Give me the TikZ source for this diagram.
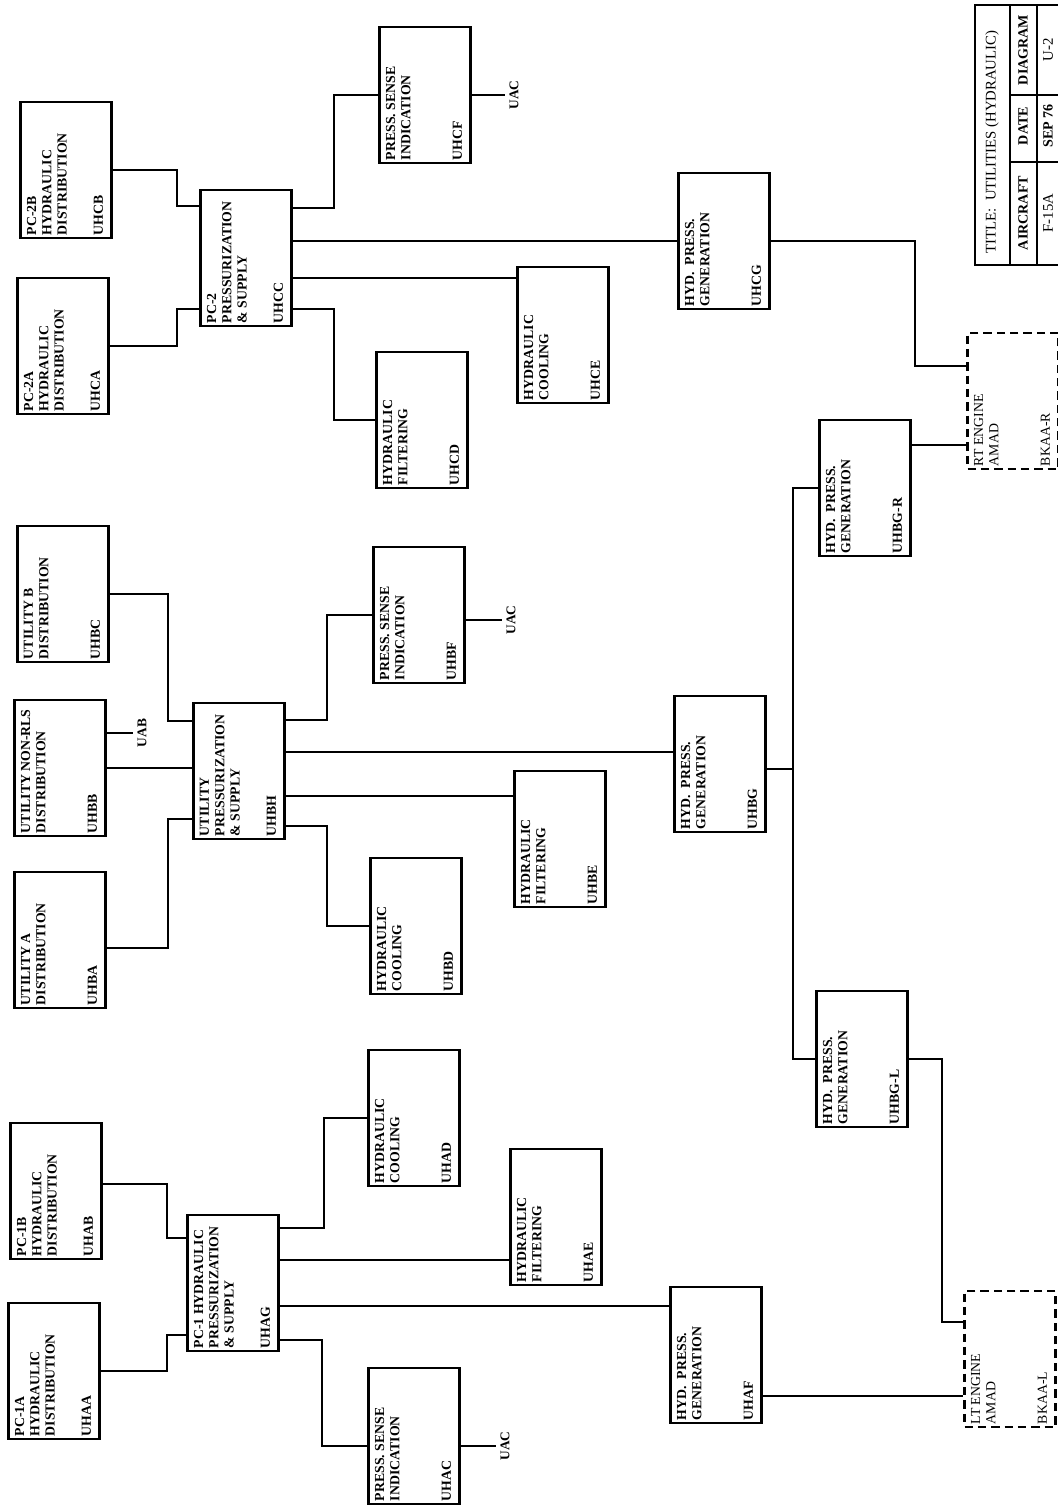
\documentclass[tikz,border=0pt]{standalone}
\usepackage{fontspec}
\setmainfont{Liberation Serif}
\usepackage{graphicx}
\usetikzlibrary{calc}

% text of one block, turned to read upwards
\newcommand{\unitbox}[2]{\rotatebox{90}{\parbox[c][2.2cm][s]{3.25cm}{\raggedright\vspace*{3.5pt}#1\par\vfill #2\par\vspace*{5pt}}}}
\newcommand{\upright}[1]{\rotatebox{90}{#1}}

\begin{document}
\begin{tikzpicture}[
    x=0.025cm, y=-0.025cm,
    unit/.style={draw, line width=1.9pt, minimum width=2.275cm, minimum height=3.4cm, inner sep=0pt, font=\bfseries\fontsize{9.8}{10.9}\selectfont},
    engine/.style={unit, dash pattern=on 6pt off 3.5pt, font=\fontsize{9.8}{10.9}\selectfont},
    link/.style={line width=1.9pt},
    tag/.style={inner sep=3pt, font=\bfseries\fontsize{9.5}{10}\selectfont},
    cell/.style={inner sep=0pt, font=\fontsize{10.5}{12}\selectfont}
]
\useasboundingbox (0,0) rectangle (1058,1505);

% PC-2 system
\node[unit] (uhcb) at (66,170) {\unitbox{PC-2B\\HYDRAULIC\\DISTRIBUTION}{UHCB}};
\node[unit] (uhca) at (63,346) {\unitbox{PC-2A\\HYDRAULIC\\DISTRIBUTION}{UHCA}};
\node[unit] (uhcc) at (246,258) {\unitbox{PC-2\\PRESSURIZATION\\\& SUPPLY}{UHCC}};
\node[unit] (uhcf) at (425,95) {\unitbox{PRESS. SENSE\\INDICATION}{UHCF}};
\node[unit] (uhcd) at (422,420) {\unitbox{HYDRAULIC\\FILTERING}{UHCD}};
\node[unit] (uhce) at (563,335) {\unitbox{HYDRAULIC\\COOLING}{UHCE}};
\node[unit] (uhcg) at (724,241) {\unitbox{HYD.\ \ PRESS.\\GENERATION}{UHCG}};
\node[tag] (uac1) at (514,95) {\upright{UAC}};

% utility system
\node[unit] (uhbc) at (63,594) {\unitbox{UTILITY B\\DISTRIBUTION}{UHBC}};
\node[unit] (uhbb) at (60,768) {\unitbox{UTILITY NON-RLS\\DISTRIBUTION}{UHBB}};
\node[unit] (uhba) at (60,940) {\unitbox{UTILITY A\\DISTRIBUTION}{UHBA}};
\node[unit] (uhbh) at (239,771) {\unitbox{UTILITY\\PRESSURIZATION\\\& SUPPLY}{UHBH}};
\node[unit] (uhbf) at (419,615) {\unitbox{PRESS. SENSE\\INDICATION}{UHBF}};
\node[unit] (uhbd) at (416,926) {\unitbox{HYDRAULIC\\COOLING}{UHBD}};
\node[unit] (uhbe) at (560,839) {\unitbox{HYDRAULIC\\FILTERING}{UHBE}};
\node[unit] (uhbg) at (720,764) {\unitbox{HYD.\ \ PRESS.\\GENERATION}{UHBG}};
\node[unit] (uhbgr) at (865,488) {\unitbox{HYD.\ \ PRESS.\\GENERATION}{UHBG-R}};
\node[unit] (uhbgl) at (862,1059) {\unitbox{HYD.\ \ PRESS.\\GENERATION}{UHBG-L}};
\node[tag] (uab) at (142,733) {\upright{UAB}};
\node[tag] (uac2) at (511,620) {\upright{UAC}};
\coordinate (bus) at (793,769);

% PC-1 system
\node[unit] (uhab) at (56,1191) {\unitbox{PC-1B\\HYDRAULIC\\DISTRIBUTION}{UHAB}};
\node[unit] (uhaa) at (54,1371) {\unitbox{PC-1A\\HYDRAULIC\\DISTRIBUTION}{UHAA}};
\node[unit] (uhag) at (233,1283) {\unitbox{PC-1 HYDRAULIC\\PRESSURIZATION\\\& SUPPLY}{UHAG}};
\node[unit] (uhad) at (414,1118) {\unitbox{HYDRAULIC\\COOLING}{UHAD}};
\node[unit] (uhae) at (556,1217) {\unitbox{HYDRAULIC\\FILTERING}{UHAE}};
\node[unit] (uhaf) at (716,1355) {\unitbox{HYD.\ \ PRESS.\\GENERATION}{UHAF}};
\node[unit] (uhac) at (414,1436) {\unitbox{PRESS. SENSE\\INDICATION}{UHAC}};
\node[tag] (uac3) at (505,1446) {\upright{UAC}};

% engines
\node[engine] (rt) at (1013,401) {\unitbox{RT ENGINE\\AMAD}{BKAA-R}};
\node[engine] (lt) at (1010,1359) {\unitbox{LT ENGINE\\AMAD}{BKAA-L}};

% links PC-2
\draw[link] (uhcb.east) -- ++(64,0) |- ($(uhcc.west)+(0,-52)$);
\draw[link] (uhca.east) -- ++(67,0) |- ($(uhcc.west)+(0,51)$);
\draw[link] ($(uhcc.east)+(0,-50)$) -- ++(41,0) |- (uhcf.west);
\draw[link] (uhcc.east |- uhcg.west) -- (uhcg.west);
\draw[link] ($(uhcc.east)+(0,20)$) -- ($(uhce.west)+(0,-57)$);
\draw[link] ($(uhcc.east)+(0,51)$) -- ++(41,0) |- (uhcd.west);
\draw[link] (uhcf.east) -- (uac1.west);
\draw[link] (uhcg.east) -- ++(144,0) |- ($(rt.west)+(0,-35)$);

% links utility
\draw[link] (uhbc.east) -- ++(58,0) |- ($(uhbh.west)+(0,-50)$);
\draw[link] (uhbb.east) -- (uhbh.west |- uhbb.east);
\draw[link] ($(uhbb.east)+(0,-35)$) -- (uab.west);
\draw[link] ($(uhba.east)+(0,8)$) -- ++(61,0) |- ($(uhbh.west)+(0,48)$);
\draw[link] ($(uhbh.east)+(0,-51)$) -- ++(41,0) |- (uhbf.west);
\draw[link] ($(uhbh.east)+(0,-19)$) -- ($(uhbg.west)+(0,-12)$);
\draw[link] ($(uhbh.east)+(0,25)$) -- ($(uhbe.west)+(0,-43)$);
\draw[link] ($(uhbh.east)+(0,55)$) -- ++(41,0) |- (uhbd.west);
\draw[link] ($(uhbf.east)+(0,5)$) -- (uac2.west);
\draw[link] ($(uhbg.east)+(0,5)$) -- (bus);
\draw[link] (uhbgr.west) -| (bus) |- (uhbgl.west);
\draw[link] ($(uhbgr.east)+(0,-43)$) -- ($(rt.west)+(0,44)$);

% links PC-1
\draw[link] ($(uhab.east)+(0,-7)$) -- ++(64,0) |- ($(uhag.west)+(0,-45)$);
\draw[link] (uhaa.east) -- ++(66,0) |- ($(uhag.west)+(0,52)$);
\draw[link] ($(uhag.east)+(0,-55)$) -- ++(44,0) |- (uhad.west);
\draw[link] ($(uhag.east)+(0,-23)$) -- ($(uhae.west)+(0,43)$);
\draw[link] ($(uhag.east)+(0,23)$) -- ($(uhaf.west)+(0,-49)$);
\draw[link] ($(uhag.east)+(0,57)$) -- ++(42,0) |- ($(uhac.west)+(0,10)$);
\draw[link] ($(uhac.east)+(0,10)$) -- (uac3.west);
\draw[link] ($(uhaf.east)+(0,41)$) -- ($(lt.west)+(0,37)$);
\draw[link] (uhbgl.east) -- ++(33,0) |- ($(lt.west)+(0,-37)$);

% title block
\draw[line width=1.4pt] (975,5) rectangle (1068,265);
\draw[line width=1.4pt] (1010,5) -- (1010,265) (1037,5) -- (1037,265)
    (1010,95) -- (1068,95) (1010,162) -- (1068,162);
\node[cell] (title) at (992,142) {\upright{TITLE:\ \ UTILITIES (HYDRAULIC)}};
\node[cell, font=\bfseries\fontsize{10}{12}\selectfont] (aircraft) at (1023,213) {\upright{AIRCRAFT}};
\node[cell, font=\bfseries\fontsize{10}{12}\selectfont] (date) at (1023,126) {\upright{DATE}};
\node[cell, font=\bfseries\fontsize{10}{12}\selectfont] (diagram) at (1023,50) {\upright{DIAGRAM}};
\node[cell] (aircraftv) at (1048,213) {\upright{F-15A}};
\node[cell, font=\bfseries\fontsize{10}{12}\selectfont] (datev) at (1048,126) {\upright{SEP 76}};
\node[cell] (diagramv) at (1048,50) {\upright{U-2}};

\end{tikzpicture}
\end{document}
